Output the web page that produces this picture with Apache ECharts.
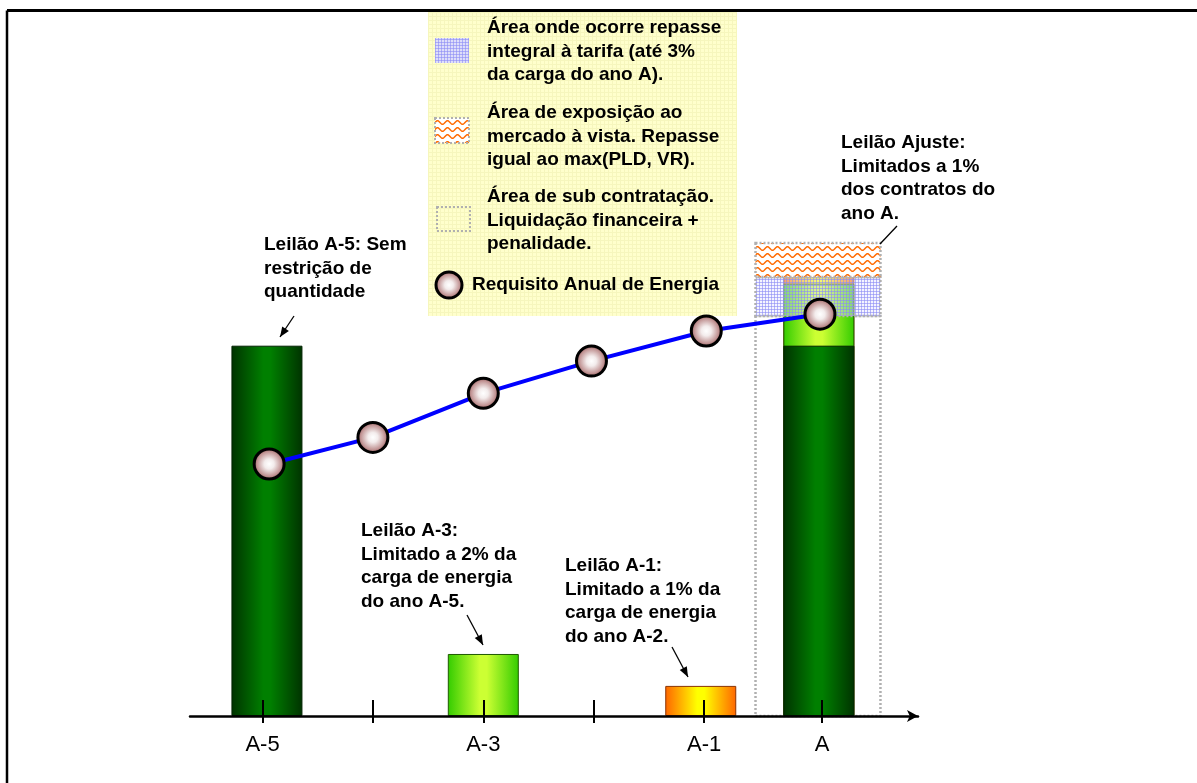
<!DOCTYPE html>
<html><head><meta charset="utf-8">
<script src="https://cdn.jsdelivr.net/npm/echarts@6/dist/echarts.min.js"></script>
<style>html,body{margin:0;padding:0;background:#fff}#c{width:1197px;height:783px}</style>
</head><body><div id="c"></div>
<script>
// ---- data ----
const tickLabels = ['A-5', '', 'A-3', '', 'A-1', 'A'];
const tickPos = [0, 1, 2, 3, 4, 5.07];
const barPos = [0.04, 2.0, 3.97, 5.04];          // A-5, A-3, A-1, A
const leilaoA5 = [52.9, null, null, 52.9];
const leilaoA3 = [null, 8.86, null, 8.86];
const leilaoA1 = [null, null, 4.3, 1.2];
const requisitoX = [0.06, 1.0, 2.0, 2.98, 4.02, 5.05];
const requisito = [36.0, 39.8, 46.1, 50.7, 55.0, 57.4];
const areaX = [4.466, 5.598];
const subContratacao = [0, 57.14];
const repasse = [57.14, 62.71];
const exposicao = [62.71, 67.57];

const FONT = "'Liberation Sans', Arial, sans-serif";

// ---- patterns ----
function mkBlue(bg) {
  const c = document.createElement('canvas'); c.width = 3; c.height = 3;
  const g = c.getContext('2d');
  g.fillStyle = bg || 'rgba(230,230,255,0.45)'; g.fillRect(0, 0, 3, 3);
  g.fillStyle = 'rgba(140,140,245,0.6)'; g.fillRect(0, 0, 3, 1); g.fillRect(0, 0, 1, 3);
  return c;
}
function mkWave() {
  const c = document.createElement('canvas'); c.width = 10; c.height = 7;
  const g = c.getContext('2d');
  g.fillStyle = '#ffffff'; g.fillRect(0, 0, 10, 7);
  g.strokeStyle = '#ff6a00'; g.lineWidth = 1.5;
  g.beginPath();
  for (let x = -1; x <= 11; x += 0.5) {
    const y = 3.5 + 1.8 * Math.sin(2 * Math.PI * x / 10);
    if (x === -1) g.moveTo(x, y); else g.lineTo(x, y);
  }
  g.stroke();
  return c;
}
function mkYellow() {
  const c = document.createElement('canvas'); c.width = 4; c.height = 4;
  const g = c.getContext('2d');
  g.fillStyle = '#ffffcc'; g.fillRect(0, 0, 4, 4);
  g.fillStyle = '#f6f6bd'; g.fillRect(0, 0, 4, 1); g.fillRect(0, 0, 1, 4);
  return c;
}
const bluePat = { image: mkBlue(), repeat: 'repeat' };
const wavePat = { image: mkWave(), repeat: 'repeat' };
const yellowPat = { image: mkYellow(), repeat: 'repeat' };

function hgrad(edge, mid) {
  return { type: 'linear', x: 0, y: 0, x2: 1, y2: 0,
    colorStops: [{ offset: 0, color: edge }, { offset: 0.45, color: mid }, { offset: 0.55, color: mid }, { offset: 1, color: edge }] };
}
const ballGrad = { type: 'radial', x: 0.5, y: 0.5, r: 0.5,
  colorStops: [{ offset: 0, color: '#ffffff' }, { offset: 0.3, color: '#f3ecec' }, { offset: 0.75, color: '#c09292' }, { offset: 1, color: '#6e3434' }] };

// stacked totals (drawn as overlapping bars, tallest first)
const totA5 = leilaoA5.map(v => v == null ? null : v);
const totA3 = leilaoA3.map((v, i) => v == null ? null : (leilaoA5[i] || 0) + v);
const totA1 = leilaoA1.map((v, i) => v == null ? null : (leilaoA5[i] || 0) + (leilaoA3[i] || 0) + v);
function pairs(arr) { return barPos.map((x, i) => [x, arr[i]]).filter(d => d[1] != null); }

function rectRender(fill, stroke) {
  return function (params, api) {
    const p0 = api.coord([api.value(0), api.value(3)]);
    const p1 = api.coord([api.value(1), api.value(2)]);
    return { type: 'rect',
      shape: { x: p0[0], y: p0[1], width: p1[0] - p0[0], height: p1[1] - p0[1] },
      style: { fill: fill, stroke: stroke, lineWidth: 2.5, lineDash: [2, 2] } };
  };
}

function arrow(x1, y1, x2, y2, head) {
  const els = [{ type: 'line', shape: { x1, y1, x2, y2 }, style: { stroke: '#000', lineWidth: 1.3 }, z: 100 }];
  if (head) {
    const a = Math.atan2(y2 - y1, x2 - x1), L = 10, W = 4;
    const bx = x2 - L * Math.cos(a), by = y2 - L * Math.sin(a);
    els.push({ type: 'polygon', shape: { points: [[x2, y2], [bx + W * Math.sin(a), by - W * Math.cos(a)], [bx - W * Math.sin(a), by + W * Math.cos(a)]] }, style: { fill: '#000' }, z: 100 });
  }
  return els;
}
function txt(x, y, text) {
  return { type: 'text', x, y, z: 100,
    style: { text, font: 'bold 19px ' + FONT, fill: '#000', lineHeight: 23.5, verticalAlign: 'top', align: 'left' } };
}

const chart = echarts.init(document.getElementById('c'), null, { renderer: 'canvas' });
const XMIN = -0.657, XMAX = 5.938;

chart.setOption({
  animation: false,
  backgroundColor: '#ffffff',
  grid: { left: 190, right: 279, top: 16, bottom: 67 },
  xAxis: [
    { type: 'value', min: XMIN, max: XMAX, position: 'bottom', z: 10,
      axisLine: { show: true, lineStyle: { color: '#000', width: 2.5 }, symbol: ['none', 'arrow'], symbolSize: [9, 11] },
      axisTick: { show: true, inside: false, length: 7, lineStyle: { color: '#000', width: 2 }, customValues: tickPos },
      axisLabel: { show: true, customValues: tickPos.filter((v, i) => tickLabels[i] !== ''), margin: 18,
        formatter: v => { const i = tickPos.findIndex(t => Math.abs(t - v) < 1e-6); return i >= 0 ? tickLabels[i] : ''; },
        fontFamily: FONT, fontSize: 22, color: '#000' },
      splitLine: { show: false } },
    { type: 'value', min: XMIN, max: XMAX, position: 'top', offset: -700, z: 10,
      axisLine: { show: false },
      axisTick: { show: true, inside: false, length: 16, lineStyle: { color: '#000', width: 2 }, customValues: tickPos },
      axisLabel: { show: false }, splitLine: { show: false } }
  ],
  yAxis: { type: 'value', min: 0, max: 100, show: false, splitLine: { show: false } },
  graphic: [
    { type: 'line', shape: { x1: 7, y1: 10.5, x2: 1197, y2: 10.5 }, style: { stroke: '#000', lineWidth: 3 }, z: 100 },
    { type: 'line', shape: { x1: 7, y1: 10.5, x2: 7, y2: 783 }, style: { stroke: '#000', lineWidth: 2.5 }, z: 100 },
    { type: 'rect', shape: { x: 428, y: 12, width: 309, height: 304 }, style: { fill: yellowPat }, z: 0 },
    { type: 'rect', shape: { x: 435, y: 38, width: 34, height: 25 }, style: { fill: { image: mkBlue('rgba(218,218,255,0.9)'), repeat: 'repeat' } }, z: 1 },
    { type: 'rect', shape: { x: 435, y: 118, width: 34, height: 25 }, style: { fill: wavePat, stroke: '#b0b0b0', lineWidth: 2, lineDash: [2, 2] }, z: 1 },
    { type: 'rect', shape: { x: 437, y: 207, width: 33, height: 24 }, style: { fill: 'rgba(255,255,255,0)', stroke: '#b0b0b0', lineWidth: 2, lineDash: [2, 2] }, z: 1 },
    { type: 'circle', shape: { cx: 449, cy: 285, r: 13 }, style: { fill: ballGrad, stroke: '#000', lineWidth: 3 }, z: 1 },
    txt(487, 16.25, 'Área onde ocorre repasse\nintegral à tarifa (até 3%\nda carga do ano A).'),
    txt(487, 101.25, 'Área de exposição ao\nmercado à vista. Repasse\nigual ao max(PLD, VR).'),
    txt(487, 185.25, 'Área de sub contratação.\nLiquidação financeira +\npenalidade.'),
    txt(472, 273.25, 'Requisito Anual de Energia'),
    txt(264, 233.25, 'Leilão A-5: Sem\nrestrição de\nquantidade'),
    txt(841, 131.25, 'Leilão Ajuste:\nLimitados a 1%\ndos contratos do\nano A.'),
    txt(361, 519.25, 'Leilão A-3:\nLimitado a 2% da\ncarga de energia\ndo ano A-5.'),
    txt(565, 554.25, 'Leilão A-1:\nLimitado a 1% da\ncarga de energia\ndo ano A-2.'),
    ...arrow(294, 316, 280, 337, true),
    ...arrow(467, 615, 483, 645, true),
    ...arrow(672, 647, 688, 677, true),
    ...arrow(897, 226, 880, 244, false)
  ],
  series: [
    { name: 'Leilão A-1', type: 'bar', barWidth: 71, barGap: '-100%', z: 2, data: pairs(totA1),
      itemStyle: { color: hgrad('#ff6600', '#ffff00'), borderColor: '#8a3300', borderWidth: 1 } },
    { name: 'Leilão A-3', type: 'bar', barWidth: 71, barGap: '-100%', z: 2, data: pairs(totA3),
      itemStyle: { color: hgrad('#33cc00', '#ccff33'), borderColor: '#1f5a00', borderWidth: 1 } },
    { name: 'Leilão A-5', type: 'bar', barWidth: 71, barGap: '-100%', z: 2, data: pairs(totA5),
      itemStyle: { color: hgrad('#003300', '#007f00'), borderColor: '#002200', borderWidth: 1 } },
    { name: 'Sub contratação', type: 'custom', z: 1, encode: { x: [0, 1], y: [2, 3] },
      renderItem: rectRender('rgba(255,255,255,0)', '#b0b0b0'),
      data: [[areaX[0], areaX[1], subContratacao[0], subContratacao[1]]] },
    { name: 'Repasse', type: 'custom', z: 3, encode: { x: [0, 1], y: [2, 3] },
      renderItem: rectRender(bluePat, '#b0b0b0'),
      data: [[areaX[0], areaX[1], repasse[0], repasse[1]]] },
    { name: 'Exposição', type: 'custom', z: 3, encode: { x: [0, 1], y: [2, 3] },
      renderItem: rectRender(wavePat, '#b0b0b0'),
      data: [[areaX[0], areaX[1], exposicao[0], exposicao[1]]] },
    { name: 'Requisito Anual de Energia', type: 'line', z: 5,
      data: requisitoX.map((x, i) => [x, requisito[i]]),
      lineStyle: { color: '#0000ff', width: 4 },
      symbol: 'circle', symbolSize: 30,
      itemStyle: { color: ballGrad, borderColor: '#000', borderWidth: 3 } }
  ]
});
</script></body></html>
